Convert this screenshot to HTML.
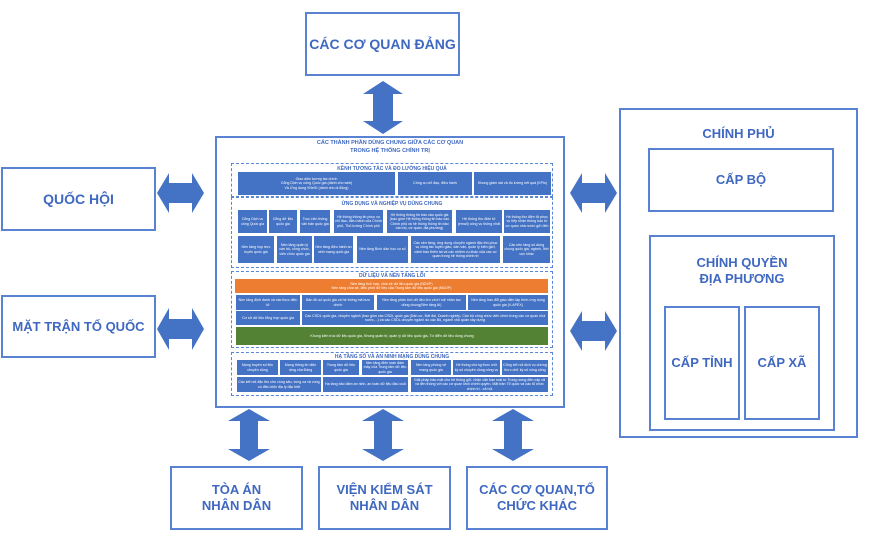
<!DOCTYPE html>
<html><head><meta charset="utf-8"><style>
*{margin:0;padding:0;box-sizing:border-box}
body{width:870px;height:548px;background:#fff;position:relative;overflow:hidden;font-family:"Liberation Sans",sans-serif;color:#3f68c0}
.b{position:absolute;border:2px solid #5a82d2;display:flex;align-items:center;justify-content:center;text-align:center;font-weight:bold;line-height:1.2;white-space:nowrap}
.f{position:absolute;background:#4472c4;color:#fff;font-size:3.6px;line-height:1.2;display:flex;align-items:center;justify-content:center;text-align:center;padding:1px;overflow:hidden}
.d{position:absolute;border:1.5px dashed #5a86d6}
.t{position:absolute;font-size:5px;font-weight:bold;color:#3f68c0;text-align:center}
svg{position:absolute;left:0;top:0}
</style></head><body>
<div class="b" style="left:305px;top:12px;width:155px;height:64px;font-size:14px">CÁC CƠ QUAN ĐẢNG</div>
<div class="b" style="left:1px;top:167px;width:155px;height:64px;font-size:14px">QUỐC HỘI</div>
<div class="b" style="left:1px;top:295px;width:155px;height:63px;font-size:13px">MẶT TRẬN TỔ QUỐC</div>
<div class="b" style="left:170px;top:466px;width:133px;height:64px;font-size:13px">TÒA ÁN<br>NHÂN DÂN</div>
<div class="b" style="left:318px;top:466px;width:133px;height:64px;font-size:13px">VIỆN KIỂM SÁT<br>NHÂN DÂN</div>
<div class="b" style="left:466px;top:466px;width:142px;height:64px;font-size:13px">CÁC CƠ QUAN,TỔ<br>CHỨC KHÁC</div>
<div class="b" style="left:619px;top:108px;width:239px;height:330px;align-items:flex-start;padding-top:16px;font-size:13px">CHÍNH PHỦ</div>
<div class="b" style="left:648px;top:148px;width:186px;height:64px;font-size:13px">CẤP BỘ</div>
<div class="b" style="left:649px;top:235px;width:186px;height:196px;align-items:flex-start;padding-top:18px;font-size:13px">CHÍNH QUYỀN<br>ĐỊA PHƯƠNG</div>
<div class="b" style="left:664px;top:306px;width:76px;height:114px;font-size:13px">CẤP TỈNH</div>
<div class="b" style="left:744px;top:306px;width:76px;height:114px;font-size:13px">CẤP XÃ</div>

<div class="b" style="left:215px;top:136px;width:350px;height:272px"></div>
<div class="t" style="left:215px;top:139px;width:350px;font-size:5.5px;line-height:8px">CÁC THÀNH PHẦN DÙNG CHUNG GIỮA CÁC CƠ QUAN<br>TRONG HỆ THỐNG CHÍNH TRỊ</div>

<div class="d" style="left:231px;top:163px;width:322px;height:34px"></div>
<div class="t" style="left:231px;top:166px;width:322px">KÊNH TƯƠNG TÁC VÀ ĐO LƯỜNG HIỆU QUẢ</div>
<div class="f" style="left:238px;top:172px;width:157px;height:23px">Giao diện tương tác chính<br>Cổng Dịch vụ công Quốc gia (dành cho web)<br>Và Ứng dụng VNeID (dành cho di động)</div>
<div class="f" style="left:398px;top:172px;width:74px;height:23px">Công cụ chỉ đạo, điều hành</div>
<div class="f" style="left:474px;top:172px;width:77px;height:23px">Khung giám sát và đo lường kết quả (KPIs)</div>

<div class="d" style="left:231px;top:197px;width:322px;height:71px"></div>
<div class="t" style="left:231px;top:201px;width:322px">ỨNG DỤNG VÀ NGHIỆP VỤ DÙNG CHUNG</div>
<div class="f" style="left:238px;top:210px;width:29px;height:23px">Cổng Dịch vụ công Quốc gia</div>
<div class="f" style="left:269px;top:210px;width:28px;height:23px">Cổng dữ liệu quốc gia</div>
<div class="f" style="left:300px;top:210px;width:30px;height:23px">Trục Liên thông văn bản quốc gia</div>
<div class="f" style="left:334px;top:210px;width:49px;height:23px">Hệ thống thông tin phục vụ chỉ đạo, điều hành của Chính phủ, Thủ tướng Chính phủ</div>
<div class="f" style="left:387px;top:210px;width:65px;height:23px">Hệ thống thông tin báo cáo quốc gia (bao gồm Hệ thống thông tin báo cáo Chính phủ và hệ thống thông tin báo cáo bộ, cơ quan, địa phương)</div>
<div class="f" style="left:456px;top:210px;width:46px;height:23px">Hệ thống thư điện tử (email) công vụ thống nhất</div>
<div class="f" style="left:504px;top:210px;width:46px;height:23px">Hệ thống thư điện tử phục vụ tiếp nhận thông báo từ cơ quan nhà nước gửi đến</div>
<div class="f" style="left:238px;top:236px;width:36px;height:27px">Nền tảng họp trực tuyến quốc gia</div>
<div class="f" style="left:277px;top:236px;width:35px;height:27px">Nền tảng quản lý cán bộ, công chức, viên chức quốc gia</div>
<div class="f" style="left:314px;top:236px;width:39px;height:27px">Nền tảng điều hành an ninh mạng quốc gia</div>
<div class="f" style="left:357px;top:236px;width:51px;height:27px">Nền tảng Bình dân học vụ số</div>
<div class="f" style="left:411px;top:236px;width:89px;height:27px">Các nền tảng, ứng dụng chuyên ngành đặc thù phục vụ công tác tuyên giáo, dân vận, quản lý biên giới, cảnh báo thiên tai và các nhiệm vụ khác của các cơ quan trong hệ thống chính trị</div>
<div class="f" style="left:503px;top:236px;width:47px;height:27px">Các nền tảng số dùng chung quốc gia, ngành, lĩnh vực khác</div>

<div class="d" style="left:231px;top:271px;width:322px;height:77px"></div>
<div class="t" style="left:231px;top:273px;width:322px">DỮ LIỆU VÀ NỀN TẢNG LÕI</div>
<div class="f" style="left:235px;top:279px;width:313px;height:14px;background:#ed7d31">Nền tảng tích hợp, chia sẻ dữ liệu quốc gia (NDXP)<br>Nền tảng chia sẻ, điều phối dữ liệu của Trung tâm dữ liệu quốc gia (NDOP)</div>
<div class="f" style="left:236px;top:295px;width:64px;height:15px">Nền tảng định danh và xác thực điện tử</div>
<div class="f" style="left:302px;top:295px;width:72px;height:15px">Bản đồ số quốc gia và hệ thống mã bưu chính</div>
<div class="f" style="left:377px;top:295px;width:89px;height:15px">Nền tảng phân tích dữ liệu lớn và trí tuệ nhân tạo dùng chung(Nền tảng AI)</div>
<div class="f" style="left:468px;top:295px;width:80px;height:15px">Nền tảng trao đổi giao diện lập trình ứng dụng quốc gia (V-APEX)</div>
<div class="f" style="left:236px;top:311px;width:64px;height:14px">Cơ sở dữ liệu tổng hợp quốc gia</div>
<div class="f" style="left:302px;top:311px;width:246px;height:14px">Các CSDL quốc gia, chuyên ngành (bao gồm các CSDL quốc gia (Dân cư, Đất đai, Doanh nghiệp, Cán bộ công chức viên chức trong các cơ quan nhà nước,...) và các CSDL chuyên ngành do các Bộ, ngành chủ quản xây dựng</div>
<div class="f" style="left:236px;top:327px;width:312px;height:18px;background:#548235">Khung kiến trúc dữ liệu quốc gia, Khung quản trị, quản lý dữ liệu quốc gia, Từ điển dữ liệu dùng chung</div>

<div class="d" style="left:231px;top:352px;width:322px;height:44px"></div>
<div class="t" style="left:231px;top:354px;width:322px">HẠ TẦNG SỐ VÀ AN NINH MẠNG DÙNG CHUNG</div>
<div class="f" style="left:237px;top:360px;width:41px;height:15px">Mạng truyền số liệu chuyên dùng</div>
<div class="f" style="left:280px;top:360px;width:41px;height:15px">Mạng thông tin diện rộng của Đảng</div>
<div class="f" style="left:323px;top:360px;width:36px;height:15px">Trung tâm dữ liệu quốc gia</div>
<div class="f" style="left:362px;top:360px;width:46px;height:15px">Nền tảng điện toán đám mây của Trung tâm dữ liệu quốc gia</div>
<div class="f" style="left:411px;top:360px;width:40px;height:15px">Nền tảng phòng vệ mạng quốc gia</div>
<div class="f" style="left:453px;top:360px;width:47px;height:15px">Hệ thống chứng thực chữ ký số chuyên dùng công vụ</div>
<div class="f" style="left:502px;top:360px;width:46px;height:15px">Cổng kết nối dịch vụ chứng thực chữ ký số công cộng</div>
<div class="f" style="left:237px;top:377px;width:84px;height:15px">Các kết nối đặc thù cho vùng sâu, vùng xa và vùng có điều kiện địa lý đặc biệt</div>
<div class="f" style="left:323px;top:377px;width:85px;height:15px">Hạ tầng bảo đảm an ninh, an toàn dữ liệu đầu cuối</div>
<div class="f" style="left:411px;top:377px;width:137px;height:15px">Giải pháp bảo mật cho hệ thống gửi, nhận văn bản mật từ Trung ương đến cấp xã và liên thông với các cơ quan khối chính quyền, Mặt trận Tổ quốc và các tổ chức chính trị - xã hội</div>

<svg width="870" height="548" viewBox="0 0 870 548">
<g fill="#4472c4">
<polygon points="383,81 403,94 393,94 393,121 403,121 383,134 363,121 373,121 373,94 363,94"/>
<polygon points="157,193 169,173 169,183 192,183 192,173 204,193 192,213 192,203 169,203 169,213"/>
<polygon points="157,329 169,308 169,319 192,319 192,308 204,329 192,350 192,339 169,339 169,350"/>
<polygon points="570,193 582,173 582,183 605,183 605,173 617,193 605,213 605,203 582,203 582,213"/>
<polygon points="570,331 582,311 582,321 605,321 605,311 617,331 605,351 605,341 582,341 582,351"/>
<polygon points="249,409 270,421 258,421 258,449 270,449 249,461 228,449 240,449 240,421 228,421"/>
<polygon points="383,409 404,421 392,421 392,449 404,449 383,461 362,449 374,449 374,421 362,421"/>
<polygon points="513,409 534,421 522,421 522,449 534,449 513,461 492,449 504,449 504,421 492,421"/>
</g></svg>
</body></html>
